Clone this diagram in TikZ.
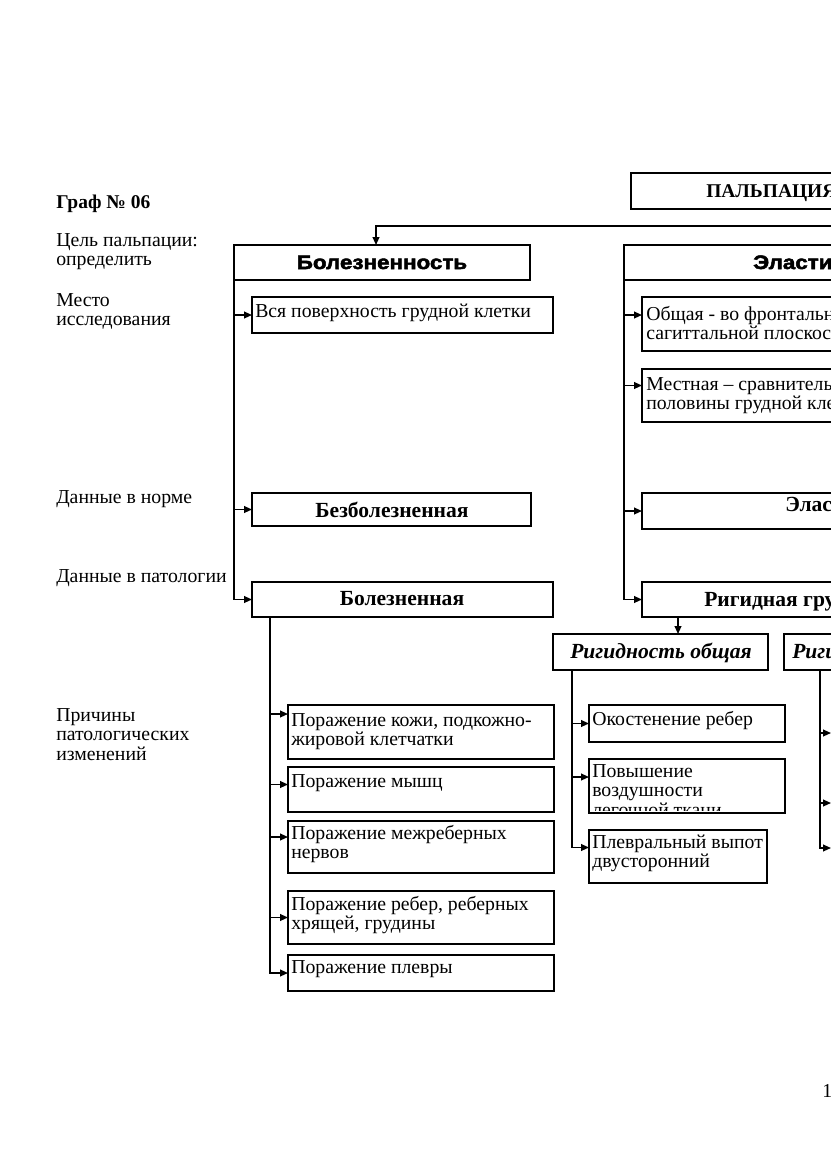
\documentclass[tikz,border=0pt]{standalone}
\usepackage{fontspec}
\setmainfont{Liberation Serif}
\newfontfamily\hsans{Liberation Sans}[FakeStretch=1.15, FakeBold=2.5]
\usetikzlibrary{arrows.meta}
\newlength\pxu \setlength\pxu{0.2527mm}
\newcommand\tl[1]{\parbox[t]{12cm}{#1}}
\begin{document}
\begin{tikzpicture}[x=0.2527mm,y=-0.2527mm,
  rect/.style={draw, line width=1.1pt, inner sep=0pt, outer sep=0pt, anchor=north west},
  lbl/.style={inner sep=0pt, anchor=base west, font=\fontsize{14.2}{14.37}\selectfont},
  clbl/.style={lbl, anchor=base},
  hb/.style={font=\fontsize{14}{15}\hsans\bfseries},
  gb/.style={font=\fontsize{14}{14.37}\selectfont\bfseries},
  sb/.style={font=\fontsize{15.5}{16}\selectfont\bfseries},
  ib/.style={font=\fontsize{15.5}{16}\selectfont\bfseries\itshape},
  arr/.style={line width=1.1pt, -{Triangle[length=2mm, width=1.7mm]}},
  ln/.style={line width=1.1pt}]
\useasboundingbox (0,0) rectangle (831,1174);
\clip (0,0) rectangle (831,1174);
\fill[white] (0,0) rectangle (831,1174);

% left column labels
\node[lbl, gb] (g) at (56,208) {Граф № 06};
\node[lbl] (c1) at (56,246) {\tl{Цель пальпации:\\определить}};
\node[lbl] (c2) at (56,306) {\tl{Место\\исследования}};
\node[lbl] (c3) at (56,503) {Данные в норме};
\node[lbl] (c4) at (56,582) {Данные в патологии};
\node[lbl] (c5) at (56,721) {\tl{Причины\\патологических\\изменений}};

% boxes
\node[rect, minimum width=600\pxu, minimum height=36\pxu] (pal) at (631,173) {};
\node[rect, minimum width=296\pxu, minimum height=35\pxu] (bol) at (234,245) {};
\node[rect, minimum width=600\pxu, minimum height=35\pxu] (ela) at (624,245) {};
\node[rect, minimum width=301\pxu, minimum height=36\pxu] (vsya) at (252,297) {};
\node[rect, minimum width=600\pxu, minimum height=54\pxu] (obsh) at (642,297) {};
\node[rect, minimum width=600\pxu, minimum height=53\pxu] (mest) at (642,369) {};
\node[rect, minimum width=279\pxu, minimum height=33\pxu] (bezb) at (252,493) {};
\node[rect, minimum width=600\pxu, minimum height=36\pxu] (elas) at (642,493) {};
\node[rect, minimum width=301\pxu, minimum height=35\pxu] (boln) at (252,582) {};
\node[rect, minimum width=600\pxu, minimum height=35\pxu] (rig) at (642,582) {};
\node[rect, minimum width=215\pxu, minimum height=36\pxu] (ro) at (553,634) {};
\node[rect, minimum width=400\pxu, minimum height=36\pxu] (rm) at (784,634) {};
\node[rect, minimum width=266\pxu, minimum height=54\pxu] (p1) at (288,705) {};
\node[rect, minimum width=266\pxu, minimum height=45\pxu] (p2) at (288,767) {};
\node[rect, minimum width=266\pxu, minimum height=52\pxu] (p3) at (288,821) {};
\node[rect, minimum width=266\pxu, minimum height=53\pxu] (p4) at (288,891) {};
\node[rect, minimum width=266\pxu, minimum height=36\pxu] (p5) at (288,955) {};
\node[rect, minimum width=196\pxu, minimum height=37\pxu] (ok) at (589,705) {};
\node[rect, minimum width=196\pxu, minimum height=54\pxu] (pv) at (589,759) {};
\node[rect, minimum width=178\pxu, minimum height=53\pxu] (pl) at (589,830) {};

% box texts
\node[lbl, gb] (tpal) at (706,197) {ПАЛЬПАЦИЯ};
\node[clbl, hb] (tbol) at (382,269) {Болезненность};
\node[lbl, hb] (tela) at (753,269) {Эластичность};
\node[lbl] (tvsya) at (255,317) {Вся поверхность грудной клетки};
\node[lbl] (tobsh) at (646,320) {\tl{Общая - во фронтальной и\\сагиттальной плоскостях}};
\node[lbl] (tmest) at (646,390) {\tl{Местная – сравнительно обе\\половины грудной клетки}};
\node[clbl, sb] (tbezb) at (392,517) {Безболезненная};
\node[lbl, sb] (telas) at (785,511) {Эластичная};
\node[clbl, sb] (tboln) at (402,605) {Болезненная};
\node[lbl, sb] (trig) at (704,606) {Ригидная грудная клетка};
\node[clbl, ib] (tro) at (661,658) {Ригидность общая};
\node[lbl, ib] (trm) at (792,658) {Ригидность местная};
\node[lbl] (tp1) at (291,726) {\tl{Поражение кожи, подкожно-\\жировой клетчатки}};
\node[lbl] (tp2) at (291,787) {Поражение мышц};
\node[lbl] (tp3) at (291,839) {\tl{Поражение межреберных\\нервов}};
\node[lbl] (tp4) at (291,910) {\tl{Поражение ребер, реберных\\хрящей, грудины}};
\node[lbl] (tp5) at (291,973) {Поражение плевры};
\node[lbl] (tok) at (592,725) {Окостенение ребер};
\begin{scope}
\clip (pv.north west) rectangle ([yshift=3\pxu]pv.south east);
\node[lbl] (tpv) at (592,777) {\tl{Повышение\\воздушности\\легочной ткани}};
\end{scope}
\draw[ln] (pv.south west) -- (pv.south east);
\node[lbl] (tpl) at (592,848) {\tl{Плевральный выпот\\двусторонний}};
\node[lbl] (pg) at (822,1097) {1};

% connectors
\coordinate (hubL) at (376,226);
\draw[arr] (pal.south) |- (hubL) -- (hubL |- bol.north);
\draw[arr] (bol.south west) |- (vsya.west);
\draw[arr] (bol.south west) |- (bezb.west);
\draw[arr] (bol.south west) |- (boln.west);
\draw[arr] (ela.south west) |- ([yshift=9\pxu]obsh.west);
\draw[arr] (ela.south west) |- ([yshift=10\pxu]mest.west);
\draw[arr] (ela.south west) |- (elas.west);
\draw[arr] (ela.south west) |- (rig.west);
\coordinate (rdx) at (678,0);
\draw[arr] (rig.south -| rdx) -- (ro.north -| rdx);
\coordinate (bx) at (270,0);
\draw[arr] (boln.south -| bx) |- ([yshift=18\pxu]p1.west);
\draw[arr] (boln.south -| bx) |- ([yshift=5\pxu]p2.west);
\draw[arr] (boln.south -| bx) |- ([yshift=10\pxu]p3.west);
\draw[arr] (boln.south -| bx) |- (p4.west);
\draw[arr] (boln.south -| bx) |- (p5.west);
\coordinate (rx) at (572,0);
\draw[arr] (ro.south -| rx) |- (ok.west);
\draw[arr] (ro.south -| rx) |- ([yshift=9\pxu]pv.west);
\draw[arr] (ro.south -| rx) |- ([yshift=9\pxu]pl.west);
\coordinate (mx) at (820,0);
\coordinate (q1) at (831,733);
\coordinate (q2) at (831,803);
\coordinate (q3) at (831,848);
\draw[arr] (rm.south -| mx) |- (q1);
\draw[arr] (rm.south -| mx) |- (q2);
\draw[arr] (rm.south -| mx) |- (q3);
\end{tikzpicture}
\end{document}
